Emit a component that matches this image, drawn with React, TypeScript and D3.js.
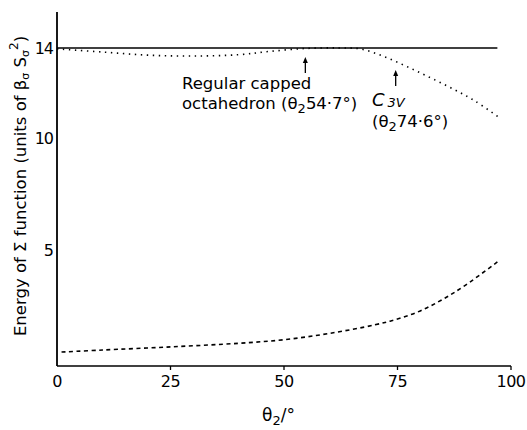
import React from "react";
import * as d3 from "d3";

// theta2 values (degrees) and energies
const solidX = [0, 97];
const solidY = [14, 14];

const dottedX = [0, 10, 20, 30, 40, 47, 55, 62, 67, 72, 77, 82, 87, 92, 97.5];
const dottedY = [13.96, 13.82, 13.68, 13.64, 13.7, 13.85, 13.98, 14.0, 13.95, 13.62, 13.18, 12.7, 12.2, 11.65, 10.89];

const dashedX = [1, 10, 25, 40, 50, 60, 70, 75, 80, 85, 90, 97];
const dashedY = [0.47, 0.56, 0.7, 0.86, 1.02, 1.3, 1.68, 1.94, 2.3, 2.82, 3.45, 4.48];

const xTicks = [0, 25, 50, 75, 100];
const yTicks = [5, 10, 14];

const font = "'DejaVu Sans', sans-serif";

export default function App() {
  const W = 527;
  const H = 430;
  const x = d3.scaleLinear().domain([0, 100]).range([57, 511]);
  const y = d3.scaleLinear().domain([-0.15, 15.6]).range([366, 12]);

  const line = d3
    .line<[number, number]>()
    .x((d) => x(d[0]))
    .y((d) => y(d[1]))
    .curve(d3.curveCatmullRom.alpha(0.5));

  const zip = (a: number[], b: number[]) => a.map((v, i) => [v, b[i]] as [number, number]);

  const arrow = (xv: number, top: number, bottom: number) => {
    const px = x(xv);
    return (
      <g key={xv}>
        <line x1={px} x2={px} y1={top + 4} y2={bottom} stroke="#000" strokeWidth={1.3} />
        <path d={`M${px},${top} L${px - 2.5},${top + 6} L${px + 2.5},${top + 6} Z`} fill="#000" />
      </g>
    );
  };

  return (
    <svg
      width={W}
      height={H}
      style={{ position: "absolute", left: 0, top: 0, background: "#fff" }}
      fontFamily={font}
    >
      {/* axes */}
      <line x1={x(0)} x2={x(0)} y1={y(15.6)} y2={y(-0.15)} stroke="#000" strokeWidth={1.8} />
      <line x1={x(0)} x2={x(100)} y1={y(-0.15)} y2={y(-0.15)} stroke="#000" strokeWidth={1.6} />
      {xTicks.map((t) => (
        <g key={t}>
          {t > 0 && (
            <line x1={x(t)} x2={x(t)} y1={y(-0.15)} y2={y(-0.15) + 4} stroke="#000" strokeWidth={1.3} />
          )}
          <text x={x(t)} y={387} fontSize={16} textAnchor="middle" letterSpacing={-0.5}>
            {t}
          </text>
        </g>
      ))}
      {yTicks.map((t) => (
        <text key={t} x={53} y={y(t) + 6} fontSize={16} textAnchor="end" letterSpacing={-1}>
          {t}
        </text>
      ))}

      {/* curves */}
      <path d={line(zip(solidX, solidY)) || ""} fill="none" stroke="#000" strokeWidth={1.6} />
      <path
        d={line(zip(dottedX, dottedY)) || ""}
        fill="none"
        stroke="#000"
        strokeWidth={1.6}
        strokeDasharray="1.4 4.6"
      />
      <path
        d={line(zip(dashedX, dashedY)) || ""}
        fill="none"
        stroke="#000"
        strokeWidth={1.6}
        strokeDasharray="4 3.5"
      />

      {/* annotations */}
      {arrow(54.7, 57, 73)}
      {arrow(74.6, 70, 86)}
      <text x={182} y={89} fontSize={16.5}>
        Regular capped
      </text>
      <text x={182} y={109} fontSize={16.5}>
        octahedron (θ<tspan dy={4} fontSize={13}>2</tspan>
        <tspan dy={-4}>54·7°)</tspan>
      </text>
      <text x={372} y={106} fontSize={16}>
        <tspan fontStyle="italic" fontSize={18}>C</tspan>
        <tspan dx={3} fontSize={13} dy={1} fontStyle="italic">3V</tspan>
      </text>
      <text x={372} y={127} fontSize={16.5}>
        (θ<tspan dy={4} fontSize={13}>2</tspan>
        <tspan dy={-4}>74·6°)</tspan>
      </text>

      {/* axis titles */}
      <text x={262} y={421} fontSize={17}>
        θ<tspan dy={4} fontSize={13}>2</tspan>
        <tspan dy={-4}>/°</tspan>
      </text>
      <text transform="translate(26,186) rotate(-90)" fontSize={16.5} textAnchor="middle">
        Energy of Σ function (units of β<tspan dy={3} fontSize={11}>σ</tspan>
        <tspan dy={-3}> S</tspan>
        <tspan dy={3} fontSize={11}>σ</tspan>
        <tspan dy={-11} fontSize={12}>2</tspan>
        <tspan dy={8}>)</tspan>
      </text>
    </svg>
  );
}
